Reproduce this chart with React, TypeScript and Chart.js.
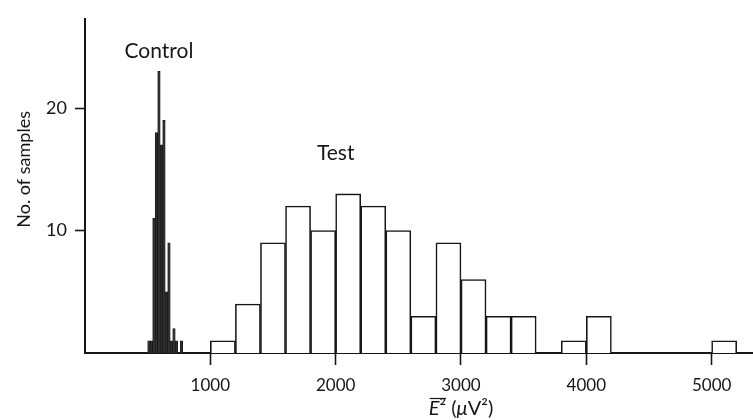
import React, { useEffect, useRef } from "react";
import { Chart, registerables } from "chart.js";

Chart.register(...registerables);

// Control recordings: narrow bins (start of bin, μV²) and sample counts
const controlBinWidth = 20;
const controlBinStarts = [500, 520, 540, 560, 580, 600, 620, 640, 660, 680, 700, 720, 760];
const controlCounts = [1, 1, 11, 18, 23, 17, 19, 5, 9, 1, 2, 1, 1];

// Test recordings: 200 μV² bins
const testBinWidth = 200;
const testBinStarts = [1000, 1200, 1400, 1600, 1800, 2000, 2200, 2400, 2600, 2800, 3000, 3200, 3400, 3800, 4000, 5000];
const testCounts = [1, 4, 9, 12, 10, 13, 12, 10, 3, 9, 6, 3, 3, 1, 3, 1];

// Axis ticks and extents
const xTickValues = [1000, 2000, 3000, 4000, 5000];
const yTickValues = [10, 20];
const xMax = 5330;
const yMax = 27.3;

const FONT = "Lato, 'Open Sans', sans-serif";
const INK = "#161616";

// Text placed in data coordinates
const notes = [
  { text: "Control", x: 590, y: 24.1 },
  { text: "Test", x: 2000, y: 15.8 },
];

const toBars = (starts: number[], counts: number[], width: number) =>
  starts.map((s, i) => ({ x: s + width / 2, y: counts[i] }));

const labelPlugin = {
  id: "histLabels",
  afterDraw(chart: any) {
    const { ctx, scales } = chart;
    const xs = scales.x;
    const ys = scales.y;
    ctx.save();
    ctx.fillStyle = INK;
    ctx.strokeStyle = INK;

    // in-plot labels
    ctx.font = `21px ${FONT}`;
    ctx.textAlign = "center";
    ctx.textBaseline = "alphabetic";
    for (const n of notes) {
      ctx.fillText(n.text, xs.getPixelForValue(n.x), ys.getPixelForValue(n.y));
    }

    // y-axis title
    ctx.save();
    ctx.translate(24, ys.getPixelForValue(15));
    ctx.rotate(-Math.PI / 2);
    ctx.font = `18px ${FONT}`;
    ctx.textAlign = "center";
    ctx.textBaseline = "middle";
    ctx.fillText("No. of samples", 0, 0);
    ctx.restore();

    // x-axis title: mean-square E with overline, in μV²
    const parts = [
      { t: "E", italic: true },
      { t: "²", italic: false },
      { t: " (", italic: false },
      { t: "μ", italic: true },
      { t: "V²)", italic: false },
    ];
    const size = 20;
    const widths = parts.map((p) => {
      ctx.font = `${p.italic ? "italic " : ""}${size}px ${FONT}`;
      return ctx.measureText(p.t).width;
    });
    const total = widths.reduce((a, b) => a + b, 0);
    let cx = xs.getPixelForValue(3000) - total / 2;
    const baseY = 415;
    ctx.textAlign = "left";
    ctx.textBaseline = "alphabetic";
    const startX = cx;
    parts.forEach((p, i) => {
      ctx.font = `${p.italic ? "italic " : ""}${size}px ${FONT}`;
      ctx.fillText(p.t, cx, baseY);
      cx += widths[i];
    });
    ctx.lineWidth = 1.2;
    ctx.beginPath();
    ctx.moveTo(startX + 1, baseY - 16.5);
    ctx.lineTo(startX + widths[0] + widths[1], baseY - 16.5);
    ctx.stroke();
    ctx.restore();
  },
};

export default function App() {
  const canvasRef = useRef<HTMLCanvasElement | null>(null);

  useEffect(() => {
    const canvas = canvasRef.current;
    if (!canvas) return;
    const chart = new Chart(canvas, {
      type: "bar",
      data: {
        datasets: [
          {
            label: "Control",
            xAxisID: "xc",
            data: toBars(controlBinStarts, controlCounts, controlBinWidth),
            backgroundColor: "#2e2e2e",
            borderColor: INK,
            borderWidth: 0.7,
            borderSkipped: "start",
            grouped: false,
            barPercentage: 1,
            categoryPercentage: 1,
          },
          {
            label: "Test",
            xAxisID: "x",
            data: toBars(testBinStarts, testCounts, testBinWidth),
            backgroundColor: "#ffffff",
            borderColor: INK,
            borderWidth: 1.6,
            borderSkipped: "start",
            grouped: false,
            barPercentage: 1,
            categoryPercentage: 1,
          },
        ] as any,
      },
      options: {
        animation: false,
        responsive: false,
        events: [],
        layout: { padding: { top: 12, right: 0, left: 0, bottom: 0 } },
        plugins: {
          legend: { display: false },
          tooltip: { enabled: false },
        },
        scales: {
          x: {
            type: "linear",
            position: "bottom",
            min: 0,
            max: xMax,
            offset: false,
            afterBuildTicks: (s: any) => {
              s.ticks = xTickValues.map((v) => ({ value: v }));
            },
            afterFit: (s: any) => {
              s.height = 420 - 353;
            },
            grid: {
              offset: false,
              drawOnChartArea: false,
              drawTicks: true,
              tickLength: 12,
              tickWidth: 1.6,
              tickColor: INK,
            },
            border: { display: true, color: INK, width: 2 },
            ticks: {
              color: INK,
              font: { family: FONT, size: 17 },
              padding: 10,
              maxRotation: 0,
              autoSkip: false,
              callback: (v: any) => String(v),
            },
          },
          xc: {
            type: "linear",
            position: "bottom",
            min: 0,
            max: xMax,
            offset: false,
            grid: { offset: false },
            display: false,
          },
          y: {
            type: "linear",
            min: 0,
            max: yMax,
            afterBuildTicks: (s: any) => {
              s.ticks = yTickValues.map((v) => ({ value: v }));
            },
            afterFit: (s: any) => {
              s.width = 85;
            },
            grid: {
              drawOnChartArea: false,
              drawTicks: true,
              tickLength: 10,
              tickWidth: 1.6,
              tickColor: INK,
            },
            border: { display: true, color: INK, width: 2 },
            ticks: {
              color: INK,
              font: { family: FONT, size: 18 },
              padding: 8,
              callback: (v: any) => String(v),
            },
          },
        },
      } as any,
      plugins: [labelPlugin],
    });
    return () => chart.destroy();
  }, []);

  return (
    <div style={{ position: "fixed", left: 0, top: 0, width: 753, height: 420, background: "#fff" }}>
      <canvas ref={canvasRef} width={753} height={420} />
    </div>
  );
}
